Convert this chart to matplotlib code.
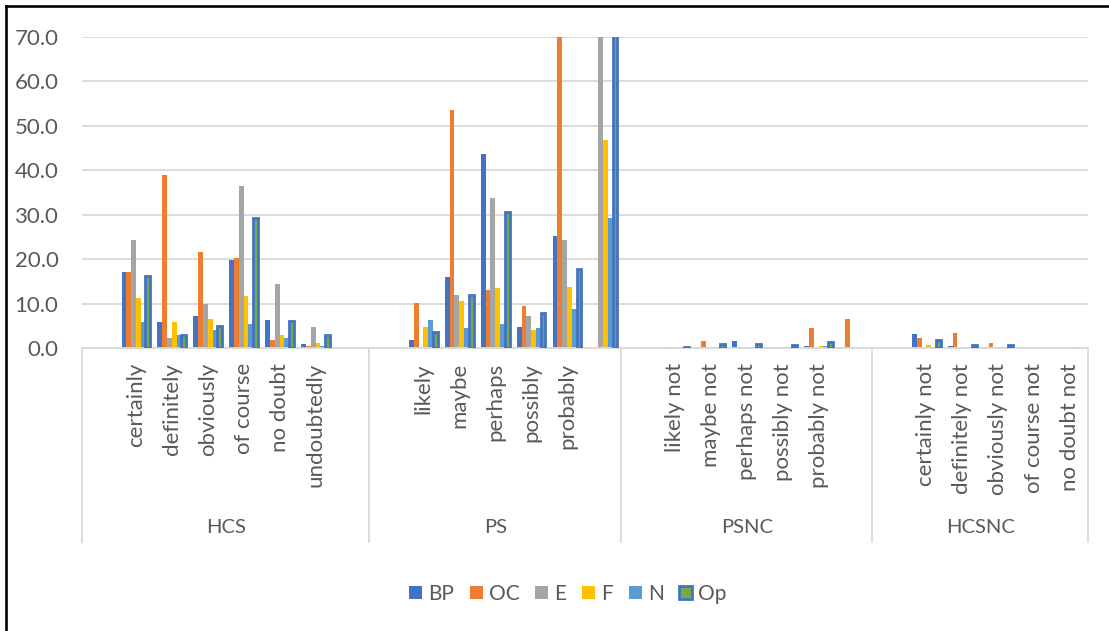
import numpy as np
import matplotlib.pyplot as plt
from matplotlib.lines import Line2D
from matplotlib.patches import Patch

plt.rcParams['font.family'] = ['Lato', 'DejaVu Sans']

# categories, one slot each (blank slots kept as in the source sheet)
categories = ["", "certainly", "definitely", "obviously", "of course", "no doubt", "undoubtedly", "",
              "", "likely", "maybe", "perhaps", "possibly", "probably", "",
              "", "likely not", "maybe not", "perhaps not", "possibly not", "probably not", "",
              "", "certainly not", "definitely not", "obviously not", "of course not", "no doubt not"]
group_names = ["HCS", "PS", "PSNC", "HCSNC"]
group_sizes = [8, 7, 7, 6]

BP = [0, 17.0, 5.8, 7.3, 19.9, 6.2, 0.8, 0,
      0, 1.9, 15.9, 43.6, 4.8, 25.2, 0,
      0, 0, 0, 1.5, 0, 0.4, 0,
      0, 3.1, 0.4, 0, 0, 0]
OC = [0, 17.0, 38.9, 21.7, 20.2, 1.8, 0.4, 0,
      0, 10.2, 53.6, 13.1, 9.4, 72.0, 0,
      0, 0.3, 1.5, 0.2, 0.2, 4.4, 6.6,
      0, 2.2, 3.3, 1.1, 0, 0]
E = [0, 24.2, 2.2, 9.8, 36.5, 14.4, 4.7, 0,
     0, 0, 12.0, 33.8, 7.3, 24.2, 72.0,
     0, 0, 0, 0, 0, 0, 0,
     0, 0, 0, 0, 0, 0]
F = [0, 11.2, 5.8, 6.5, 11.6, 2.9, 1.1, 0,
     0, 4.8, 10.5, 13.4, 4.0, 13.8, 46.9,
     0, 0.3, 0.3, 0.3, 0.3, 0.4, 0,
     0, 0.7, 0.3, 0.3, 0, 0]
N = [0, 5.8, 2.9, 4.0, 5.5, 2.2, 0.4, 0,
     0, 6.2, 4.4, 5.5, 4.4, 8.8, 29.2,
     0, 0.3, 0.3, 0.3, 0.3, 0.4, 0,
     0, 0.3, 0.3, 0.3, 0, 0.3]
Op = [0, 16.2, 2.9, 5.0, 29.2, 6.1, 2.9, 0,
      0, 3.6, 11.9, 30.5, 7.9, 17.7, 72.0,
      0, 0.3, 0.8, 0.8, 0.7, 1.4, 0,
      0, 1.8, 0.7, 0.6, 0, 0]

series = ["BP", "OC", "E", "F", "N", "Op"]
colors = ["#4472C4", "#ED7D31", "#A5A5A5", "#FFC000", "#5B9BD5", "#70AD47"]
values = [BP, OC, E, F, N, Op]

W, H = 1109, 631
fig = plt.figure(figsize=(W / 100, H / 100), dpi=100)
ax = fig.add_axes([82 / W, (H - 348) / H, 1006 / W, 311 / H])

txt = "#595959"
grid = "#D9D9D9"
x = np.arange(len(categories))
w = 0.133

for i, (name, vals) in enumerate(zip(series, values)):
    vals = np.array(vals)
    if name == "Op":
        keep = vals > 0
        ax.bar(x[keep] + (i - 2.5) * w, vals[keep], w, color=colors[i],
               edgecolor="#4472C4", linewidth=2.0, zorder=3)
    else:
        ax.bar(x + (i - 2.5) * w, vals, w, color=colors[i], zorder=2)

ax.set_xlim(-0.5, len(categories) - 0.5)
ax.set_ylim(0, 70)
ax.set_yticks(np.arange(0, 71, 10))
ax.set_yticklabels([f"{v:.1f}" for v in np.arange(0, 71, 10)])
ax.yaxis.grid(True, color=grid, lw=1.3)
ax.set_axisbelow(True)
for s in ["top", "right", "left"]:
    ax.spines[s].set_visible(False)
ax.spines["bottom"].set_color(grid)
ax.spines["bottom"].set_linewidth(1.3)
ax.tick_params(axis="y", length=0, pad=17, labelsize=16, labelcolor=txt)
ax.set_xticks([])

# category labels, rotated, hanging under the axis
tr = ax.get_xaxis_transform()
for xi, cat in zip(x, categories):
    if cat:
        ax.text(xi, -15 / 311, cat, transform=tr, rotation=90, ha="center", va="top",
                fontsize=16, color=txt, family=["Lato", "DejaVu Sans"])

# multi-level category box
bottom = -(542 - 348) / 311
edges = np.concatenate([[0], np.cumsum(group_sizes)]) - 0.5
for e in edges:
    ax.add_line(Line2D([e, e], [0, bottom], transform=tr, color=grid, lw=1.3, clip_on=False))
for gname, a, b in zip(group_names, edges[:-1], edges[1:]):
    ax.text((a + b) / 2, -(527.5 - 348) / 311, gname, transform=tr, ha="center", va="center",
            fontsize=14.5, color=txt)

# legend
handles = []
for name, c in zip(series, colors):
    if name == "Op":
        handles.append(Patch(facecolor=c, edgecolor="#4472C4", linewidth=2.0, label=name))
    else:
        handles.append(Patch(facecolor=c, label=name))
fig.legend(handles=handles, loc="center", bbox_to_anchor=(568 / W, 1 - 594 / H), ncol=6,
           frameon=False, fontsize=15, labelcolor=txt, handlelength=0.62, handleheight=0.62,
           handletextpad=0.3, columnspacing=0.75, borderpad=0.2)

# outer frame (top and left edges visible)
fig.add_artist(Line2D([6 / W, 1], [1 - 5.5 / H, 1 - 5.5 / H], color="black", lw=1.9))
fig.add_artist(Line2D([6 / W, 6 / W], [0, 1 - 5.5 / H], color="black", lw=1.9))

fig.savefig("out.png", dpi=100)
